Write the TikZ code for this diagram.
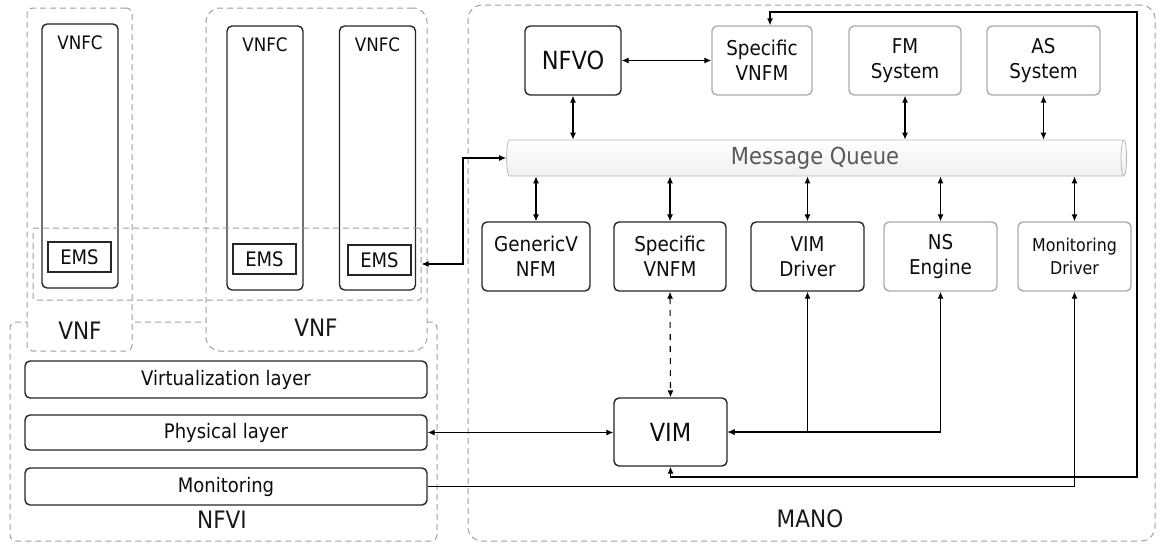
\documentclass[tikz,border=0pt]{standalone}
\usepackage{fontspec}
\setmainfont{DejaVu Sans Condensed}
\usetikzlibrary{arrows.meta,shapes.geometric,calc}
\tikzstyle{group} = [rectangle, draw=gray!75, dash pattern=on 3pt off 2pt, line width=0.5pt, rounded corners=3pt, inner sep=0pt]
\tikzstyle{block} = [rectangle, draw=black!85, line width=0.7pt, rounded corners=2.5pt, text centered, align=center, inner sep=0pt, text=black!95, fill=white, font=\fontsize{10.2}{12.5}\selectfont]
\tikzstyle{softblock} = [block, draw=gray!65]
\tikzstyle{layer} = [block, minimum width=201pt, font=\fontsize{10}{11}\selectfont]
\tikzstyle{vnfc} = [block, minimum width=38pt, minimum height=132pt]
\tikzstyle{ems} = [rectangle, draw=black!85, line width=0.7pt, minimum width=31.5pt, minimum height=15pt, inner sep=0pt, text=black!95, font=\fontsize{10}{12}\selectfont]
\tikzstyle{queue} = [cylinder, shape border rotate=0, aspect=0.25, draw=gray!55, top color=white, bottom color=gray!12, minimum height=310pt, minimum width=18pt, inner sep=0pt, text=black!65, font=\fontsize{11.7}{13}\selectfont]
\tikzstyle{title} = [text=black!90, font=\fontsize{12}{14}\selectfont]
\tikzstyle{connector} = [line width=0.55pt, {Latex[length=3.5pt,width=3pt]}-{Latex[length=3.5pt,width=3pt]}]
\tikzstyle{oneway} = [line width=0.55pt, -{Latex[length=3.5pt,width=3pt]}]
\begin{document}
\begin{tikzpicture}[x=0.5pt, y=-0.5pt]
            \useasboundingbox (0,0) rectangle (1160,546);
            \node (nfvi) [group, minimum width=213.5pt, minimum height=109.5pt] at (223.5,431.5) {};
            \node (vnfA) [group, fill=white, minimum width=52.5pt, minimum height=171.5pt] at (79.5,179.5) {};
            \node (vnfB) [group, fill=white, rounded corners=7pt, minimum width=110.5pt, minimum height=171.5pt] at (316.5,179.5) {};
            \node (mano) [group, rounded corners=7pt, minimum width=343.5pt, minimum height=268pt] at (811.5,273) {};
            \node (vnfA-t) [title] at (80,331) {VNF};
            \node (vnfB-t) [title] at (316,328) {VNF};
            \node (nfvi-t) [title] at (222,520) {NFVI};
            \node (mano-t) [title] at (810,519) {MANO};
            \node (vnfcA) [vnfc] at (80,156) {};
            \node (vnfcB) [vnfc] at (265,158) {};
            \node (vnfcC) [vnfc] at (377.5,158) {};
            \node (vnfcA-t) [font=\fontsize{9.3}{10}\selectfont, text=black!95] at (80,43) {VNFC};
            \node (vnfcB-t) [font=\fontsize{9.3}{10}\selectfont, text=black!95] at (265,45) {VNFC};
            \node (vnfcC-t) [font=\fontsize{9.3}{10}\selectfont, text=black!95] at (377.5,45) {VNFC};
            \node (emsA) [ems] at (79.5,257) {EMS};
            \node (emsB) [ems] at (264.5,259) {EMS};
            \node (emsC) [ems] at (379.5,260) {EMS};
            \node (emsgrp) [group, rounded corners=1pt, minimum width=194pt, minimum height=36pt] at (227,264) {};
            \node (virt) [layer, minimum height=18.5pt] at (226,379.5) {Virtualization layer};
            \node (phys) [layer, minimum height=17.5pt] at (226,432.5) {Physical layer};
            \node (mon) [layer, minimum height=18.5pt] at (226,486.5) {Monitoring};
            \node (nfvo) [block, minimum width=48pt, minimum height=34.5pt, font=\fontsize{12.5}{14}\selectfont] at (573,60.5) {NFVO};
            \node (specA) [softblock, minimum width=50pt, minimum height=34.5pt] at (762,60.5) {Specific\\VNFM};
            \node (fm) [softblock, minimum width=56pt, minimum height=34.5pt] at (905,60.5) {FM\\System};
            \node (as) [softblock, minimum width=56.5pt, minimum height=34.5pt] at (1043.5,60.5) {AS\\System};
            \node (mq) [queue] at (815,158) {Message Queue};
            \node (gen) [block, minimum width=54pt, minimum height=34.5pt] at (536,256.5) {GenericV\\NFM};
            \node (specB) [block, minimum width=56pt, minimum height=34.5pt] at (670,256.5) {Specific\\VNFM};
            \node (vimdrv) [block, minimum width=56.5pt, minimum height=34.5pt] at (807.5,256.5) {VIM\\Driver};
            \node (nse) [softblock, minimum width=56.5pt, minimum height=34.5pt] at (940.5,256.5) {NS\\Engine};
            \node (mondrv) [softblock, minimum width=56.5pt, minimum height=34.5pt, font=\fontsize{8.8}{11.5}\selectfont] at (1074.5,256.5) {Monitoring\\Driver};
            \node (vim) [block, minimum width=56.5pt, minimum height=34pt, font=\fontsize{12.5}{14}\selectfont] at (670.5,432) {VIM};
            \coordinate (loopR) at (1137,477);
            \coordinate (loopT) at (1137,12);
            \coordinate (mqbend) at (463,158);
            \draw [connector] (nfvo.east) -- (specA.west);
            \foreach \n in {nfvo,fm,as}
                \draw [connector] (\n.south) -- (\n.south |- mq.north);
            \foreach \n in {gen,specB,vimdrv,nse,mondrv}
                \draw [connector] (mq.south -| \n.north) -- (\n.north);
            \draw [connector, dashed] (specB.south) -- (vim.north);
            \draw [connector] (vimdrv.south) |- (vim.east);
            \draw [connector] (nse.south) |- (vim.east);
            \draw [connector] (vim.south) |- (loopR) -- (loopT) -| ([xshift=4pt]specA.north);
            \draw [oneway] (mon.east) -| (mondrv.south);
            \draw [connector] (phys.east) -- (phys.east -| vim.west);
            \draw [connector] (emsgrp.east) -| (mqbend) -- (mq.west);
        \end{tikzpicture}
\end{document}
